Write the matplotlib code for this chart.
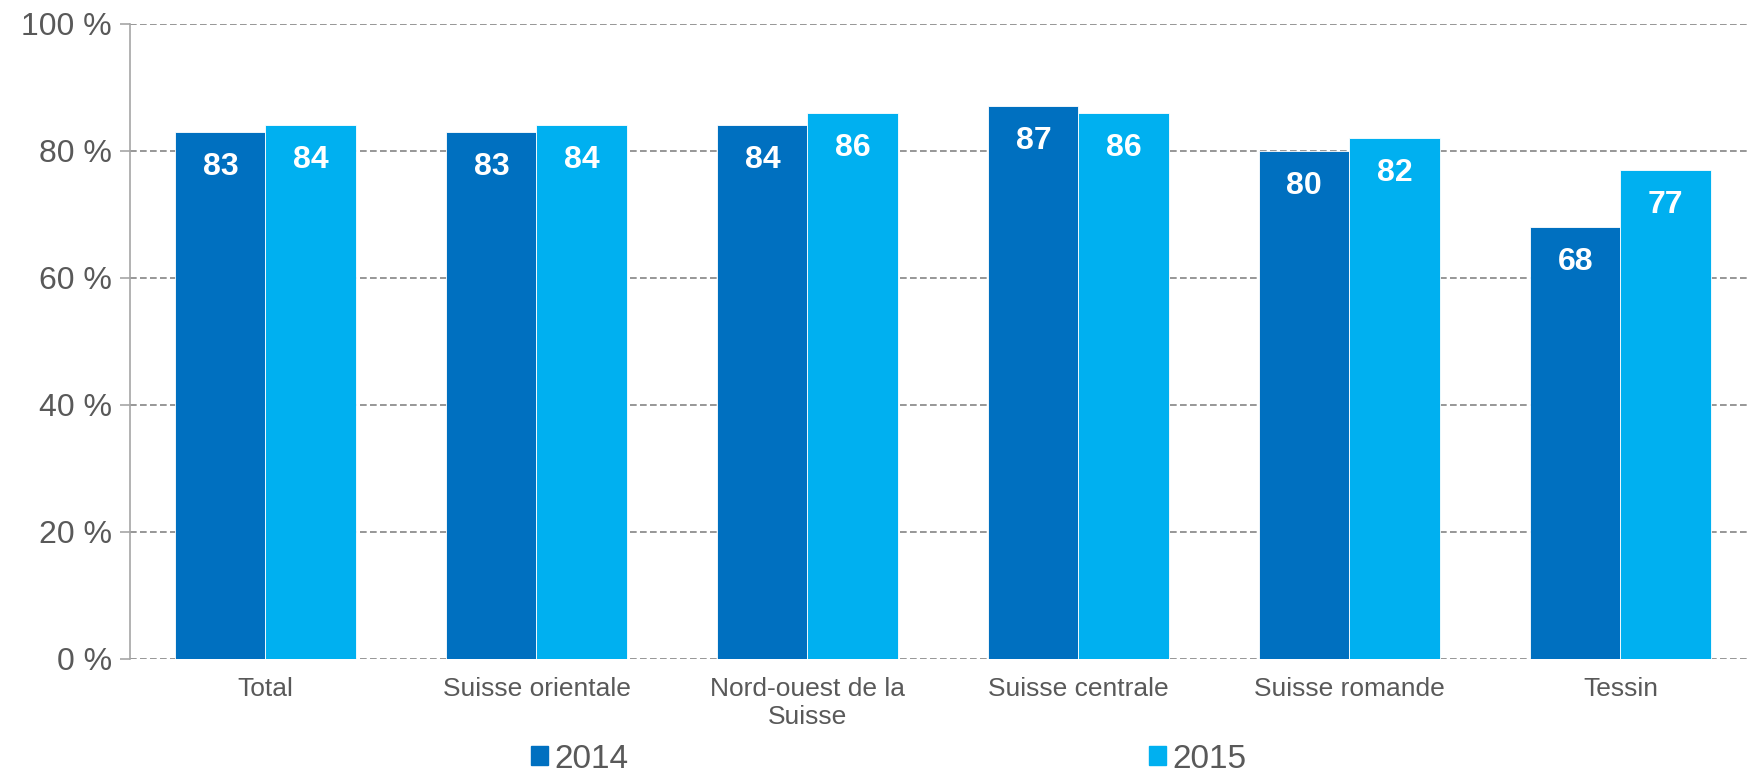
import numpy as np
import matplotlib
matplotlib.use('Agg')
import matplotlib.pyplot as plt
from matplotlib.patches import Patch

# ── 資料 ──────────────────────────────────────────────────────────────────
categories = ['Total', 'Suisse orientale', 'Nord-ouest de la\nSuisse',
              'Suisse centrale', 'Suisse romande', 'Tessin']
vals_2014 = [83, 83, 84, 87, 80, 68]
vals_2015 = [84, 84, 86, 86, 82, 77]
series_names = ['2014', '2015']
yticks = [0, 20, 40, 60, 80, 100]
ytick_labels = ['0 %', '20 %', '40 %', '60 %', '80 %', '100 %']

# ── 樣式 ──────────────────────────────────────────────────────────────────
plt.rcParams['font.family'] = ['Liberation Sans', 'DejaVu Sans']
C14 = '#0070C0'
C15 = '#00B0F0'
TXT = '#595959'
GRID = '#858585'

fig = plt.figure(figsize=(17.49, 7.78), dpi=100)
ax = fig.add_axes([130 / 1749, 1 - 659 / 778, 1 - 130 / 1749 + 0.004, (659 - 23.7) / 778])

x = np.arange(len(categories))
w = 1 / 3
b1 = ax.bar(x - w / 2, vals_2014, w, color=C14, edgecolor='white', linewidth=0.6, zorder=2)
b2 = ax.bar(x + w / 2, vals_2015, w, color=C15, edgecolor='white', linewidth=0.6, zorder=2)

# 數值標籤放在柱內頂端
for bars, vals in ((b1, vals_2014), (b2, vals_2015)):
    for rect, v in zip(bars, vals):
        ax.text(rect.get_x() + rect.get_width() / 2, v - 5.5, str(v),
                ha='center', va='center', color='white', fontsize=23,
                fontweight='bold', zorder=3)

ax.set_xlim(-0.5, len(categories) - 0.5)
ax.set_ylim(0, 100)
ax.set_yticks(yticks)
ax.set_yticklabels(ytick_labels)
ax.set_xticks(x)
ax.set_xticklabels(categories)

ax.yaxis.grid(True, linestyle=(0, (4, 2)), color=GRID, linewidth=1.2, zorder=1)
ax.set_axisbelow(True)
for s in ('top', 'right', 'bottom'):
    ax.spines[s].set_visible(False)
ax.spines['left'].set_color('#a6a6a6')
ax.spines['left'].set_linewidth(1.2)

ax.tick_params(axis='y', colors='#a6a6a6', length=7, width=1.2, pad=6,
               labelsize=23, labelcolor=TXT)
ax.tick_params(axis='x', length=0, pad=13, labelsize=19, labelcolor=TXT)

# 圖例：兩個項目分開擺放（貼近底邊但不裁切）
ly = 1 - 759 / 778
for name, col, lx in ((series_names[0], C14, 531), (series_names[1], C15, 1149)):
    fig.legend([Patch(color=col)], [name], loc='center left',
               bbox_to_anchor=(lx / 1749, ly), frameon=False, fontsize=24,
               labelcolor=TXT, handlelength=0.5, handleheight=0.5,
               handletextpad=0.2, borderpad=0, borderaxespad=0)

fig.savefig('out.png', dpi=100)
